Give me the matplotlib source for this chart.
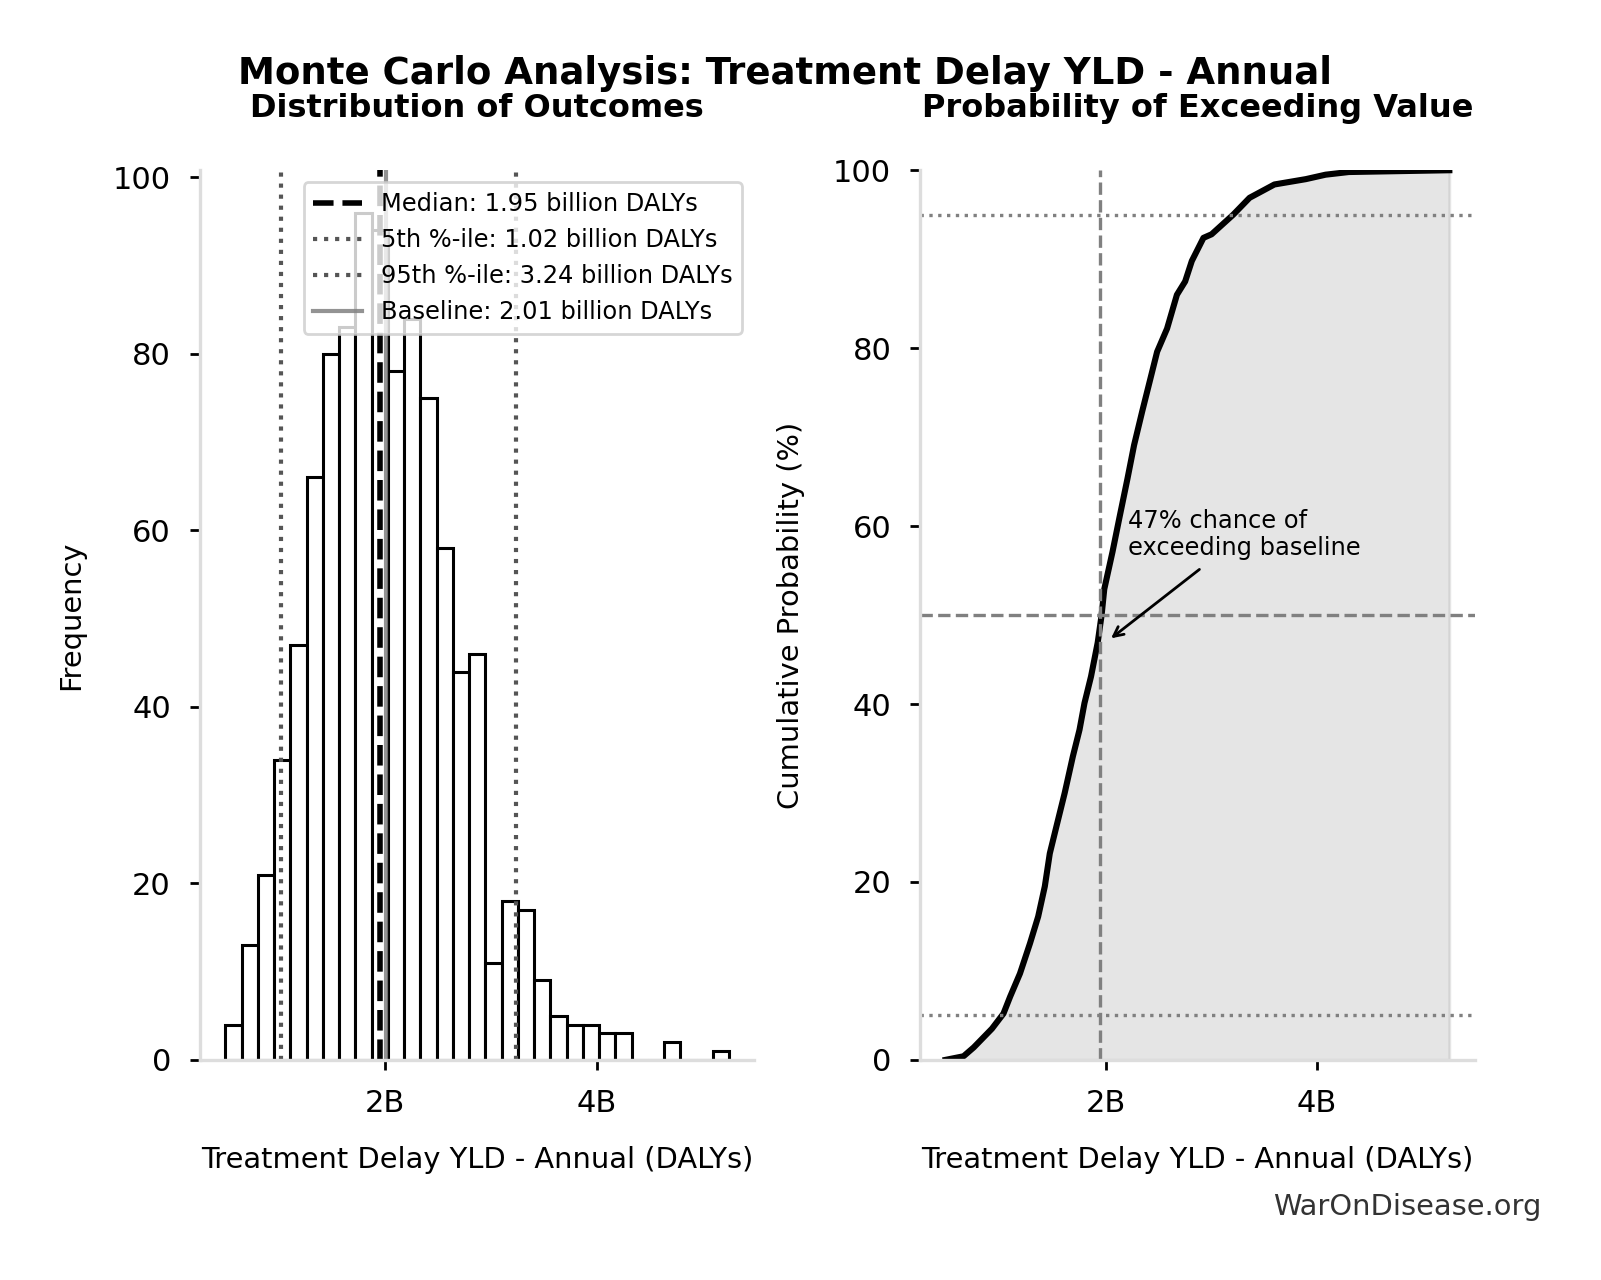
import numpy as np
import matplotlib.pyplot as plt
from matplotlib.ticker import FuncFormatter

# Histogram of simulated outcomes (billions of DALYs)
bin_start = 0.492
bin_width = 0.1534
counts = [4, 13, 21, 34, 47, 66, 80, 83, 96, 94, 78, 84, 75, 58, 44, 46,
          11, 18, 17, 9, 5, 4, 4, 3, 3, 0, 0, 2, 0, 0, 1]

# Cumulative distribution
cdf_x = [0.487, 0.656, 0.753, 0.925, 1.034, 1.097, 1.19, 1.285, 1.362, 1.425,
         1.472, 1.534, 1.613, 1.69, 1.753, 1.80, 1.862, 1.925, 1.962, 1.987,
         2.065, 2.128, 2.206, 2.269, 2.346, 2.424, 2.487, 2.581, 2.674, 2.752,
         2.815, 2.925, 3.002, 3.206, 3.361, 3.455, 3.596, 3.893, 4.08, 4.299, 5.25]
cdf_pct = [0.0, 0.4, 1.4, 3.5, 5.2, 7.1, 9.7, 13.1, 16.1, 19.5,
           23.2, 26.2, 30.0, 34.1, 37.1, 40.1, 43.1, 46.9, 50.0, 52.9,
           57.1, 60.8, 65.3, 69.1, 72.9, 76.6, 79.6, 82.2, 86.0, 87.5,
           89.8, 92.4, 92.8, 95.0, 96.9, 97.5, 98.4, 99.0, 99.5, 99.8, 100.0]

median = 1.95
p5 = 1.02
p95 = 3.24
baseline = 2.01
exceed_pct = 47

edges = bin_start + bin_width * np.arange(len(counts) + 1)

fig, (ax1, ax2) = plt.subplots(1, 2, figsize=(8.005, 6.4), dpi=200)
fig.subplots_adjust(left=0.125, right=0.921, top=0.867, bottom=0.172, wspace=0.3)

billions = FuncFormatter(lambda v, pos: f"{v:.0f}B")

# left: histogram
ax1.hist(edges[:-1], bins=edges, weights=counts, facecolor='white',
         edgecolor='black', linewidth=1.1)
ax1.axvline(median, color='black', linestyle='--', linewidth=2,
            label=f'Median: {median:.2f} billion DALYs')
ax1.axvline(p5, color='#555555', linestyle=':', linewidth=1.5,
            label=f'5th %-ile: {p5:.2f} billion DALYs')
ax1.axvline(p95, color='#555555', linestyle=':', linewidth=1.5,
            label=f'95th %-ile: {p95:.2f} billion DALYs')
ax1.axvline(baseline, color='gray', linestyle='-', linewidth=1.5, alpha=0.85,
            label=f'Baseline: {baseline:.2f} billion DALYs')
ax1.legend(loc='upper right', fontsize=8.7)
ax1.set_title('Distribution of Outcomes', fontsize=11.5, fontweight='bold', pad=19)
ax1.set_xlabel('Treatment Delay YLD - Annual (DALYs)', fontsize=10.4, labelpad=10)
ax1.set_ylabel('Frequency', fontsize=10.4, labelpad=10)

# right: cumulative probability
ax2.plot(cdf_x, cdf_pct, color='black', linewidth=2.2)
ax2.fill_between(cdf_x, cdf_pct, color='gray', alpha=0.2)
ax2.axvline(median, color='gray', linestyle='--', linewidth=1.2)
ax2.axhline(50, color='gray', linestyle='--', linewidth=1.2)
ax2.axhline(5, color='gray', linestyle=':', linewidth=1.2)
ax2.axhline(95, color='gray', linestyle=':', linewidth=1.2)
ax2.annotate(f'{exceed_pct}% chance of\nexceeding baseline',
             xy=(baseline, exceed_pct), xytext=(baseline + 0.2, 56.7),
             fontsize=8.7, arrowprops=dict(arrowstyle='->', color='black', lw=1))
ax2.set_ylim(0, 100)
ax2.set_title('Probability of Exceeding Value', fontsize=11.5, fontweight='bold', pad=19)
ax2.set_xlabel('Treatment Delay YLD - Annual (DALYs)', fontsize=10.4, labelpad=10)
ax2.set_ylabel('Cumulative Probability (%)', fontsize=10.4, labelpad=10)

for ax in (ax1, ax2):
    ax.set_xticks([2, 4])
    ax.xaxis.set_major_formatter(billions)
    ax.set_yticks([0, 20, 40, 60, 80, 100])
    ax.tick_params(labelsize=11, pad=7, length=3.5, width=1)
    for side in ('top', 'right'):
        ax.spines[side].set_visible(False)
    for side in ('left', 'bottom'):
        ax.spines[side].set_color('#dddddd')
        ax.spines[side].set_linewidth(1.2)

fig.suptitle('Monte Carlo Analysis: Treatment Delay YLD - Annual',
             fontsize=13.35, fontweight='bold', x=0.4905, y=0.957)
fig.text(0.963, 0.057, 'WarOnDisease.org', fontsize=10.4, color='#333333',
         ha='right', va='center')

plt.savefig('out.png', dpi=200)
